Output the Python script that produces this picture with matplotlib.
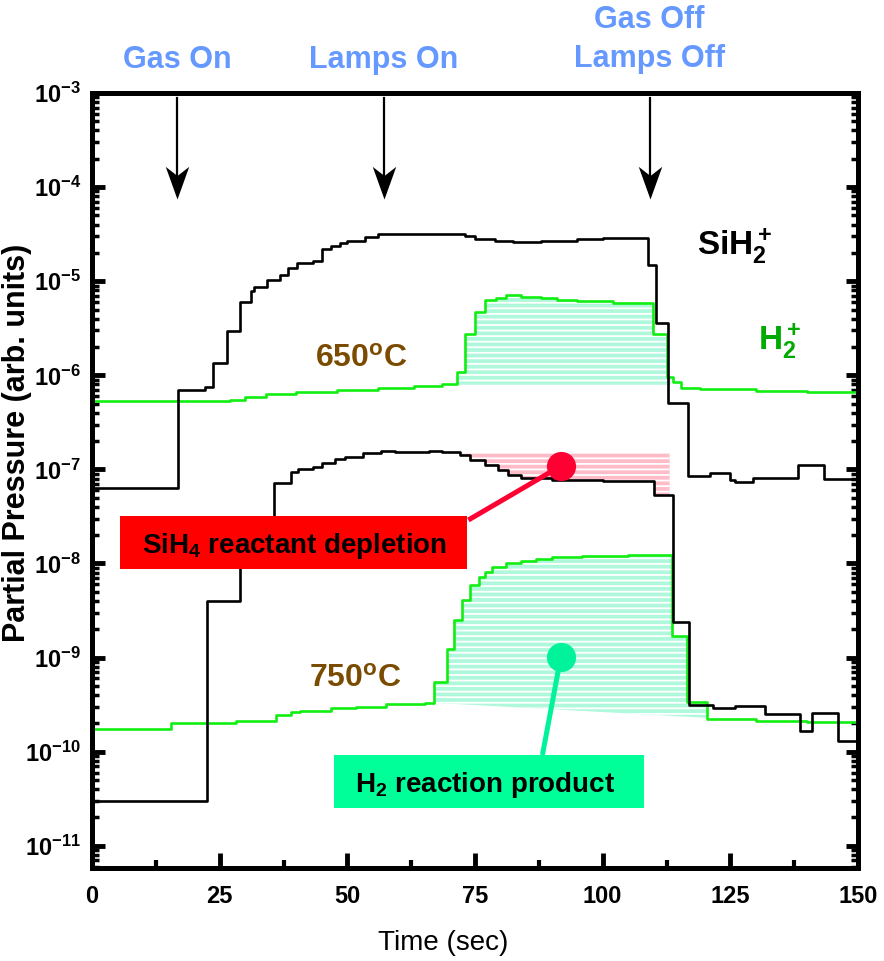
import numpy as np
import matplotlib
matplotlib.use("Agg")
import matplotlib.pyplot as plt
from matplotlib.path import Path
from matplotlib.patches import Rectangle
from matplotlib.ticker import FixedLocator, LogLocator, FuncFormatter, NullFormatter

plt.rcParams['font.family'] = ['Liberation Sans', 'DejaVu Sans']
plt.rcParams['mathtext.default'] = 'regular'
plt.rcParams['hatch.linewidth'] = 1.3

# ---------------- data (time in s, log10 of partial pressure) ----------------
# SiH2+ at 650 C (steps-post)
sih2_650_t = [0, 16.9, 22.2, 23.7, 26.5, 29.0, 31.2, 31.8, 34.3, 36.9, 38.4, 40.2, 43.3, 45.0, 46.7,
              48.6, 50.0, 53.5, 56.0, 73.0, 75.0, 79.0, 82.5, 88.0, 95.0, 100.0, 108.8, 110.4, 112.7,
              116.7, 121.0, 125.0, 126.0, 129.4, 138.2, 143.3, 150]
sih2_650_L = [-7.20, -6.16, -6.12, -5.87, -5.53, -5.22, -5.10, -5.06, -4.99, -4.93, -4.86, -4.81, -4.78,
              -4.66, -4.63, -4.59, -4.57, -4.53, -4.50, -4.52, -4.55, -4.57, -4.58, -4.57, -4.55, -4.545,
              -4.83, -5.44, -6.29, -7.07, -7.04, -7.11, -7.13, -7.09, -6.95, -7.10, -7.10]

# H2+ at 650 C
h2_650_t = [0, 27, 30, 34, 40, 48, 56, 63, 68.5, 71.4, 73.0, 75.0, 76.9, 79.2, 81.0, 84.0, 88.0, 91.0,
            95.0, 102.0, 109.8, 112.5, 113.8, 115.4, 119.0, 130.0, 140.0, 150]
h2_650_L = [-6.27, -6.26, -6.23, -6.20, -6.18, -6.16, -6.13, -6.11, -6.09, -5.97, -5.56, -5.33, -5.20,
            -5.18, -5.15, -5.17, -5.18, -5.20, -5.21, -5.23, -5.56, -6.02, -6.07, -6.135, -6.15, -6.165,
            -6.18, -6.19]

# SiH2+ at 750 C
sih2_750_t = [0, 22.6, 29.0, 35.6, 39.0, 40.4, 43.3, 45.0, 47.6, 49.6, 53.0, 56.5, 59.4, 66.0, 68.5,
              72.0, 74.0, 77.0, 79.5, 81.5, 84.0, 90.0, 100.0, 110.0, 113.7, 116.9, 121.6, 126.0, 131.7,
              138.7, 141.0, 146.0, 150]
sih2_750_L = [-10.52, -8.40, -7.80, -7.145, -7.03, -7.00, -6.975, -6.93, -6.89, -6.87, -6.83, -6.80,
              -6.815, -6.80, -6.815, -6.847, -6.90, -6.953, -7.006, -7.06, -7.09, -7.113, -7.123, -7.27,
              -8.62, -9.50, -9.536, -9.515, -9.60, -9.78, -9.59, -9.886, -9.886]

# H2+ at 750 C
h2_750_t = [0, 15.4, 28.2, 36.0, 38.9, 40.8, 46.7, 51.6, 57.5, 65.3, 67.0, 69.6, 70.8, 72.5, 74.1, 75.7,
            77.0, 78.4, 81.0, 84.0, 87.0, 90.0, 96.0, 105.0, 113.5, 116.5, 120.5, 130.0, 140.0, 150]
h2_750_L = [-9.76, -9.695, -9.674, -9.61, -9.578, -9.568, -9.536, -9.525, -9.493, -9.482, -9.26, -8.91,
            -8.60, -8.39, -8.23, -8.14, -8.09, -8.037, -7.995, -7.973, -7.952, -7.931, -7.92, -7.91,
            -8.77, -9.47, -9.653, -9.674, -9.685, -9.685]

# fill ranges (time) and reference levels (log10)
fill_650_range = (71.4, 113.3)
fill_650_base = -6.10
depl_range = (72.0, 113.1)
depl_top = -6.83
fill_750_range = (66.8, 120.4)
fill_750_base = (-9.48, -9.64)

# events
event_t = [16.7, 57.1, 109.2]
event_labels = [["Gas On"], ["Lamps On"], ["Gas Off", "Lamps Off"]]
arrow_top_L = -3.053
arrow_tip_L = -4.126

xticks = [0, 25, 50, 75, 100, 125, 150]
decades = list(range(-11, -2))

# ---------------- helpers ----------------
def step_eval(t, L, tq):
    t = np.asarray(t); L = np.asarray(L)
    idx = np.clip(np.searchsorted(t, tq, side='right') - 1, 0, len(t) - 1)
    return L[idx]

P = lambda L: 10.0 ** np.asarray(L, dtype=float)

fig = plt.figure(figsize=(8.84, 9.61), dpi=100)
ax = fig.add_axes([0.1041, 0.0968, 0.8665, 0.8064])
ax.set_yscale('log')
ax.set_xlim(0, 150)
ax.set_ylim(10 ** -11.236, 1e-3)

GREEN_LINE = '#11ee11'
AQUA_FILL = '#b0f8dc'
PINK_FILL = '#ffbcc8'

# fills
tq = np.linspace(*fill_650_range, 1200)
ax.fill_between(tq, P(fill_650_base), P(step_eval(h2_650_t, h2_650_L, tq)),
                facecolor=AQUA_FILL, edgecolor='white', hatch='---', linewidth=0, zorder=1)
tq = np.linspace(*depl_range, 1200)
ax.fill_between(tq, P(step_eval(sih2_750_t, sih2_750_L, tq)), P(depl_top),
                facecolor=PINK_FILL, edgecolor='white', hatch='---', linewidth=0, zorder=1)
tq = np.linspace(*fill_750_range, 1200)
base = np.interp(tq, fill_750_range, fill_750_base)
ax.fill_between(tq, P(base), P(step_eval(h2_750_t, h2_750_L, tq)),
                facecolor=AQUA_FILL, edgecolor='white', hatch='---', linewidth=0, zorder=1)

# curves
ax.plot(h2_650_t, P(h2_650_L), drawstyle='steps-post', color=GREEN_LINE, lw=1.9, zorder=3)
ax.plot(h2_750_t, P(h2_750_L), drawstyle='steps-post', color=GREEN_LINE, lw=1.9, zorder=3)
ax.plot(sih2_650_t, P(sih2_650_L), drawstyle='steps-post', color='black', lw=1.9, zorder=4)
ax.plot(sih2_750_t, P(sih2_750_L), drawstyle='steps-post', color='black', lw=1.9, zorder=4)

# event arrows
head = Path([(0, 0), (-0.36, 1.0), (0, 0.72), (0.36, 1.0), (0, 0)],
            [Path.MOVETO, Path.LINETO, Path.LINETO, Path.LINETO, Path.CLOSEPOLY])
for t, lab in zip(event_t, event_labels):
    ax.plot([t, t], [P(arrow_top_L), P(arrow_tip_L + 0.2)], color='black', lw=1.6, zorder=5)
    ax.plot([t], [P(arrow_tip_L)], marker=head, ms=47, color='black', mew=0, zorder=5)
    base_L = -2.734 if len(lab) == 1 else -2.724
    for k, line in enumerate(reversed(lab)):
        ax.text(t, P(base_L + k * 0.415), line, ha='center', va='baseline', fontsize=22,
                fontweight='bold', color='#6699ff', clip_on=False)

# species / temperature labels
ax.text(118.4, P(-4.722), r'SiH$_2^+$', fontsize=24, fontweight='bold', color='black', va='baseline')
ax.text(130.4, P(-5.731), r'H$_2^+$', fontsize=24, fontweight='bold', color='#00aa00', va='baseline')
ax.text(43.7, P(-5.912), r'650$^o$C', fontsize=23, fontweight='bold', color='#7a4b00', va='baseline')
ax.text(42.5, P(-9.312), r'750$^o$C', fontsize=23, fontweight='bold', color='#7a4b00', va='baseline')

# callout: reactant depletion
ax.plot([73.7, 91.8], [P(-7.538), P(-6.964)], color='#ff0033', lw=3.6, zorder=6,
        solid_capstyle='butt')
ax.plot([91.8], [P(-6.964)], 'o', ms=21, color='#ff0033', mew=0, zorder=7)
ax.add_patch(Rectangle((5.49, P(-8.058)), 73.5 - 5.49, P(-7.495) - P(-8.058),
                       facecolor='#ff0000', edgecolor='none', zorder=8))
ax.text(39.7, P(-7.888), r'SiH$_4$ reactant depletion', ha='center', va='baseline',
        fontsize=20, fontweight='bold', color='black', zorder=9)

# callout: reaction product
ax.plot([88.2, 91.8], [P(-10.035), P(-8.994)], color='#00f29a', lw=3.6, zorder=6,
        solid_capstyle='butt')
ax.plot([91.8], [P(-8.994)], 'o', ms=21, color='#00f29a', mew=0, zorder=7)
ax.add_patch(Rectangle((47.45, P(-10.598)), 108.0 - 47.45, P(-10.035) - P(-10.598),
                       facecolor='#00ff99', edgecolor='none', zorder=8))
ax.text(76.9, P(-10.428), r'H$_2$ reaction product', ha='center', va='baseline',
        fontsize=20, fontweight='bold', color='black', zorder=9)

# axes styling
for s in ax.spines.values():
    s.set_linewidth(3.6)
    s.set_zorder(10)
ax.xaxis.set_major_locator(FixedLocator(xticks))
ax.xaxis.set_minor_locator(FixedLocator([12.5, 37.5, 62.5, 87.5, 112.5, 137.5]))
ax.yaxis.set_major_locator(FixedLocator([10.0 ** d for d in decades]))
ax.yaxis.set_minor_locator(LogLocator(base=10, subs=np.arange(2, 10), numticks=50))
ax.yaxis.set_minor_formatter(NullFormatter())
ax.yaxis.set_major_formatter(FuncFormatter(
    lambda v, pos: r'$\mathregular{10^{%d}}$' % int(round(np.log10(v)))))
ax.tick_params(axis='x', which='major', direction='in', length=11, width=3.5, pad=12,
               labelsize=17)
ax.tick_params(axis='x', which='minor', direction='in', length=6, width=3.0)
ax.tick_params(axis='y', which='major', direction='in', length=9, width=3.5, pad=8,
               labelsize=17, right=True)
ax.tick_params(axis='y', which='minor', direction='in', length=5, width=2.5, right=True)
for lab in ax.get_xticklabels() + ax.get_yticklabels():
    lab.set_fontweight('bold')

ax.set_xlabel('Time (sec)', fontsize=20)
ax.xaxis.set_label_coords(0.458, -0.080)
ax.set_ylabel('Partial Pressure (arb. units)', fontsize=22, fontweight='bold')
ax.yaxis.set_label_coords(-0.078, 0.548)

fig.savefig('out.png', dpi=100)
